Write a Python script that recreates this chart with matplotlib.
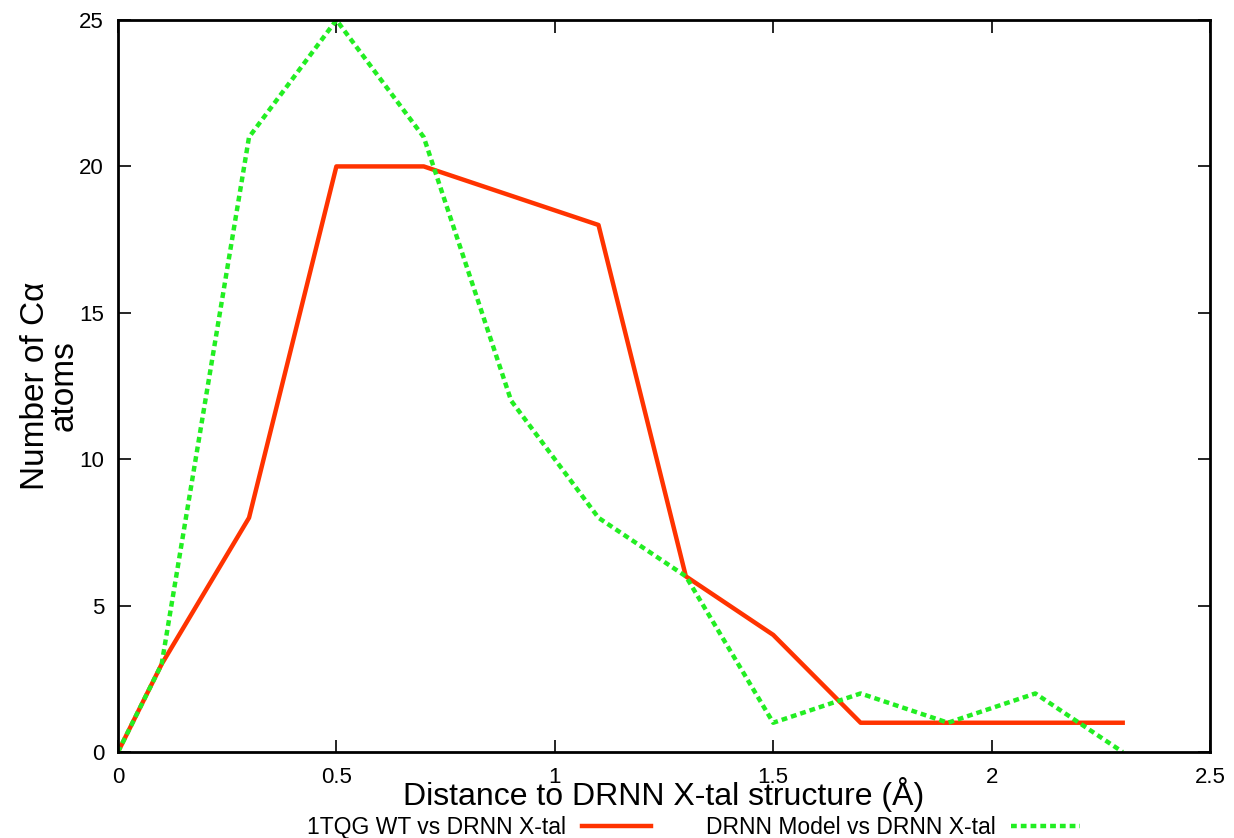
import matplotlib
matplotlib.use('Agg')
import matplotlib.pyplot as plt

plt.rcParams['font.family'] = ['Liberation Sans', 'DejaVu Sans']

# 距離 (Å)
distance = [0, 0.1, 0.3, 0.5, 0.7, 0.9, 1.1, 1.3, 1.5, 1.7, 1.9, 2.1, 2.3]
wt_counts = [0, 3, 8, 20, 20, 19, 18, 6, 4, 1, 1, 1, 1]
model_counts = [0, 3, 21, 25, 21, 12, 8, 6, 1, 2, 1, 2, 0]

xticks = [0, 0.5, 1, 1.5, 2, 2.5]
xticklabels = ['0', '0.5', '1', '1.5', '2', '2.5']
yticks = [0, 5, 10, 15, 20, 25]

fig = plt.figure(figsize=(12.34, 8.38), dpi=100)
ax = fig.add_axes([0.0956, 0.1026, 0.885, 0.8735])

ax.plot(distance, wt_counts, '-', color='#ff3300', linewidth=3.2,
        label='1TQG WT vs DRNN X-tal')
ax.plot(distance, model_counts, color='#22ee22', linewidth=3.2,
        linestyle=(0, (1.3, 0.9)), label='DRNN Model vs DRNN X-tal')

ax.set_xlim(0, 2.5)
ax.set_ylim(0, 25)
ax.set_xticks(xticks)
ax.set_xticklabels(xticklabels)
ax.set_yticks(yticks)
ax.tick_params(direction='in', top=True, right=True, length=9, width=1.2,
               labelsize=16)
ax.tick_params(axis='x', pad=11)
ax.tick_params(axis='y', pad=10)
for s in ax.spines.values():
    s.set_linewidth(2)

ax.set_xlabel('Distance to DRNN X-tal structure (Å)', fontsize=23, labelpad=-8)
ax.set_ylabel('Number of Cα\natoms', fontsize=24, labelpad=0, linespacing=0.9)

fig.legend(loc='lower center', bbox_to_anchor=(0.562, -0.026), ncol=2,
           frameon=False, markerfirst=False, fontsize=16.5, handlelength=3.0,
           columnspacing=2.4, handletextpad=0.7)

fig.savefig('out.png', dpi=100)
